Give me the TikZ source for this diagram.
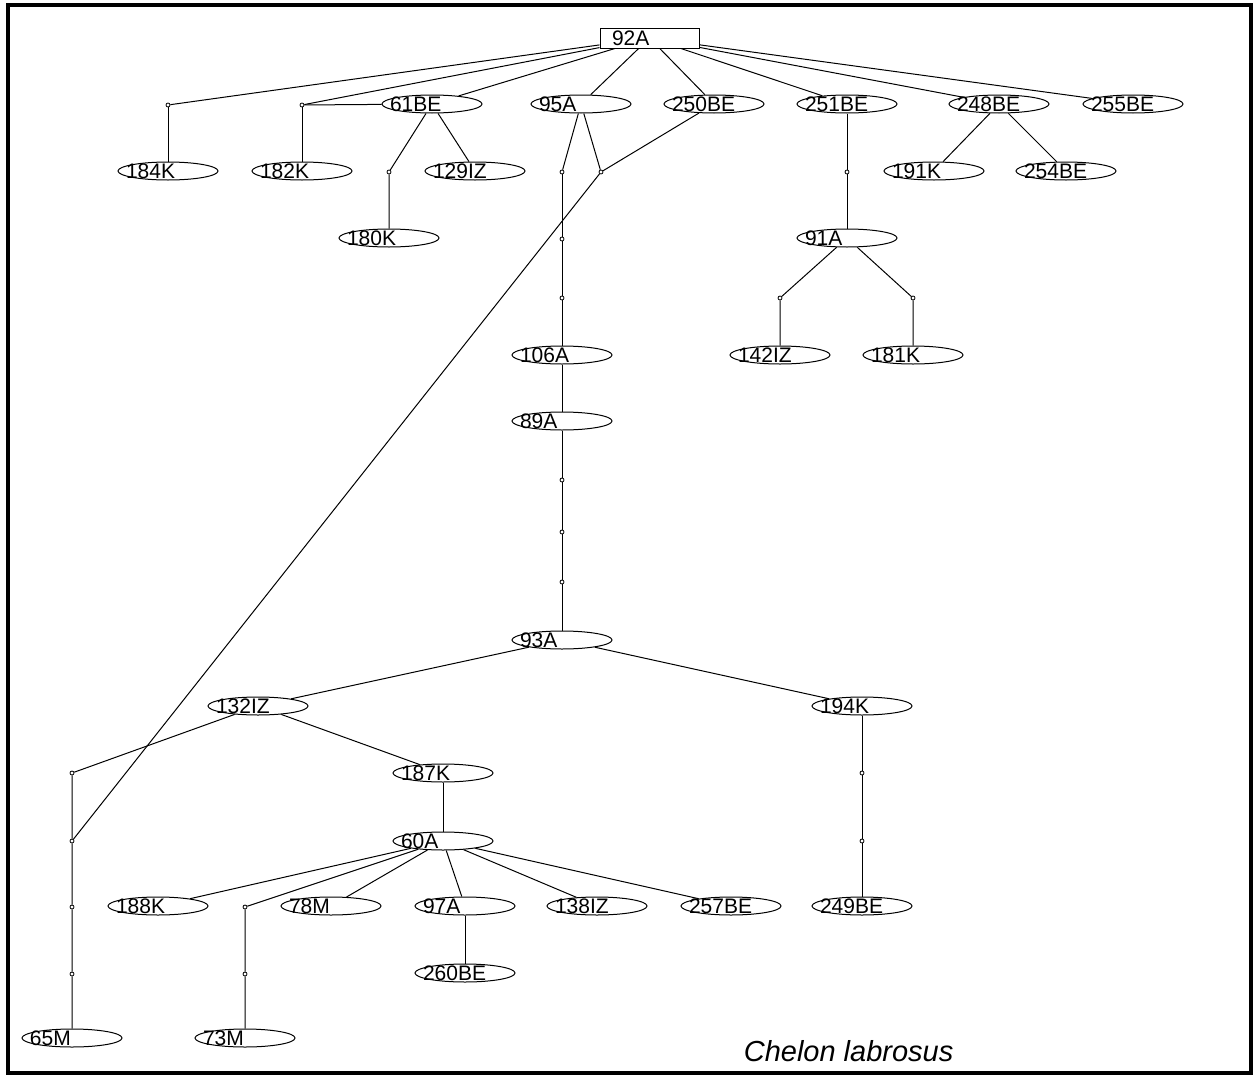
\documentclass[tikz,border=0pt]{standalone}
\usepackage{fontspec}
\setmainfont{Liberation Sans}
\usetikzlibrary{shapes.geometric}

\begin{document}
\begin{tikzpicture}[x=1pt, y=-1pt, line width=1pt,
    hap/.style={draw, ellipse, minimum width=100pt, minimum height=18pt, inner sep=0pt},
    root/.style={draw, rectangle, minimum width=99pt, minimum height=20pt, inner sep=0pt},
    tag/.style={anchor=west, inner sep=0pt, xshift=8pt, font=\fontsize{21}{21}\selectfont},
    vtx/.style={draw, circle, fill=white, minimum size=4pt, inner sep=0pt, line width=0.8pt}]

    \useasboundingbox (0,0) rectangle (1259,1079);
    \draw[line width=4pt] (8,5) rectangle (1251,1073);

    \node[root, label={[tag, xshift=4pt]west:92A}] (h92A) at (649.5,38) {};

    \node[hap, label={[tag]west:61BE}] (h61BE) at (432,104) {};
    \node[hap, label={[tag]west:95A}] (h95A) at (581,104) {};
    \node[hap, label={[tag]west:250BE}] (h250BE) at (714,104) {};
    \node[hap, label={[tag]west:251BE}] (h251BE) at (847,104) {};
    \node[hap, label={[tag]west:248BE}] (h248BE) at (999,104) {};
    \node[hap, label={[tag]west:255BE}] (h255BE) at (1133,104) {};

    \node[hap, label={[tag]west:184K}] (h184K) at (168,171) {};
    \node[hap, label={[tag]west:182K}] (h182K) at (302,171) {};
    \node[hap, label={[tag]west:129IZ}] (h129IZ) at (475,171) {};
    \node[hap, label={[tag]west:191K}] (h191K) at (934,171) {};
    \node[hap, label={[tag]west:254BE}] (h254BE) at (1066,171) {};
    \node[hap, label={[tag]west:180K}] (h180K) at (389,238) {};
    \node[hap, label={[tag]west:91A}] (h91A) at (847,238) {};

    \node[hap, label={[tag]west:106A}] (h106A) at (562,355) {};
    \node[hap, label={[tag]west:142IZ}] (h142IZ) at (780,355) {};
    \node[hap, label={[tag]west:181K}] (h181K) at (913,355) {};
    \node[hap, label={[tag]west:89A}] (h89A) at (562,421) {};
    \node[hap, label={[tag]west:93A}] (h93A) at (562,640) {};

    \node[hap, label={[tag]west:132IZ}] (h132IZ) at (258,706) {};
    \node[hap, label={[tag]west:194K}] (h194K) at (862,706) {};
    \node[hap, label={[tag]west:187K}] (h187K) at (443,773) {};
    \node[hap, label={[tag]west:60A}] (h60A) at (443,841) {};

    \node[hap, label={[tag]west:188K}] (h188K) at (158,906) {};
    \node[hap, label={[tag]west:78M}] (h78M) at (331,906) {};
    \node[hap, label={[tag]west:97A}] (h97A) at (465,906) {};
    \node[hap, label={[tag]west:138IZ}] (h138IZ) at (597,906) {};
    \node[hap, label={[tag]west:257BE}] (h257BE) at (731,906) {};
    \node[hap, label={[tag]west:249BE}] (h249BE) at (862,906) {};
    \node[hap, label={[tag]west:260BE}] (h260BE) at (465,973) {};
    \node[hap, label={[tag]west:65M}] (h65M) at (72,1038) {};
    \node[hap, label={[tag]west:73M}] (h73M) at (245,1038) {};

    % median vectors
    \node[vtx] (m184) at (168,105) {};
    \node[vtx] (m182) at (302,105) {};
    \node[vtx] (m180) at (389,172) {};
    \node[vtx] (m95a) at (562,172) {};
    \node[vtx] (m95b) at (601,172) {};
    \node[vtx] (m251) at (847,172) {};
    \node[vtx] (c1) at (562,239) {};
    \node[vtx] (c2) at (562,298) {};
    \node[vtx] (m142) at (780,298) {};
    \node[vtx] (m181) at (913,298) {};
    \node[vtx] (c3) at (562,480) {};
    \node[vtx] (c4) at (562,532) {};
    \node[vtx] (c5) at (562,582) {};
    \node[vtx] (m132) at (72,773) {};
    \node[vtx] (m194a) at (862,773) {};
    \node[vtx] (m65a) at (72,841) {};
    \node[vtx] (m194b) at (862,841) {};
    \node[vtx] (m65b) at (72,907) {};
    \node[vtx] (m73a) at (245,907) {};
    \node[vtx] (m65c) at (72,974) {};
    \node[vtx] (m73b) at (245,974) {};

    \draw (h92A) -- (m184);
    \draw (h92A) -- (m182);
    \draw (h92A) -- (h61BE);
    \draw (h92A) -- (h95A);
    \draw (h92A) -- (h250BE);
    \draw (h92A) -- (h251BE);
    \draw (h92A) -- (h248BE);
    \draw (h92A) -- (h255BE);

    \draw (m184) -- (h184K);
    \draw (m182) -- (h182K);
    \draw (m182) -- (h61BE);
    \draw (h61BE) -- (m180) -- (h180K);
    \draw (h61BE) -- (h129IZ);

    \draw (h95A) -- (m95a);
    \draw (h95A) -- (m95b);
    \draw (h250BE) -- (m95b);
    \draw (m95b) -- (m65a);
    \draw (m95a) -- (c1) -- (c2) -- (h106A) -- (h89A) -- (c3) -- (c4) -- (c5) -- (h93A);

    \draw (h251BE) -- (m251) -- (h91A);
    \draw (h91A) -- (m142) -- (h142IZ);
    \draw (h91A) -- (m181) -- (h181K);
    \draw (h248BE) -- (h191K);
    \draw (h248BE) -- (h254BE);

    \draw (h93A) -- (h132IZ);
    \draw (h93A) -- (h194K);
    \draw (h194K) -- (m194a) -- (m194b) -- (h249BE);
    \draw (h132IZ) -- (m132) -- (m65a) -- (m65b) -- (m65c) -- (h65M);
    \draw (h132IZ) -- (h187K);
    \draw (h187K) -- (h60A);

    \draw (h60A) -- (h188K);
    \draw (h60A) -- (m73a) -- (m73b) -- (h73M);
    \draw (h60A) -- (h78M);
    \draw (h60A) -- (h97A);
    \draw (h60A) -- (h138IZ);
    \draw (h60A) -- (h257BE);
    \draw (h97A) -- (h260BE);

    \node[anchor=base west, font=\fontsize{29}{29}\selectfont\itshape] (title) at (740,1061) {Chelon labrosus};
\end{tikzpicture}
\end{document}
